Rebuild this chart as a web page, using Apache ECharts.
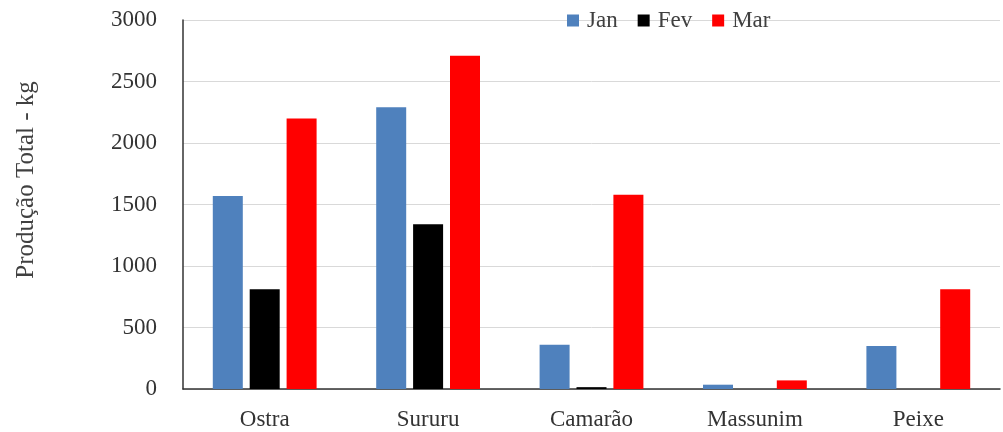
<!DOCTYPE html>
<html><head><meta charset="utf-8">
<script src="https://cdn.jsdelivr.net/npm/echarts@6/dist/echarts.min.js"></script>
<style>html,body{margin:0;padding:0;background:#fff}#c{width:1003px;height:432px}</style>
</head><body><div id="c"></div>
<script>
const categories = ['Ostra', 'Sururu', 'Camarão', 'Massunim', 'Peixe'];
const janValues = [1570, 2290, 360, 35, 350];
const fevValues = [810, 1340, 15, 0, 0];
const marValues = [2200, 2710, 1580, 70, 810];
const yTicks = [0, 500, 1000, 1500, 2000, 2500, 3000];
const yTitle = 'Produção Total - kg';

const font = 'Liberation Serif';
const chart = echarts.init(document.getElementById('c'));
chart.setOption({
  animation: false,
  textStyle: { fontFamily: font },
  grid: { left: 183, right: 3, top: 20, bottom: 43 },
  legend: {
    top: 4, left: 562,
    itemWidth: 12, itemHeight: 12, itemGap: 20,
    icon: 'rect',
    textStyle: { fontFamily: font, fontSize: 23, color: '#404040', padding: [0, 0, 0, 3] },
    data: ['Jan', 'Fev', 'Mar']
  },
  xAxis: {
    type: 'category', data: categories,
    axisLine: { lineStyle: { color: '#333', width: 1.5 } },
    axisTick: { show: false },
    axisLabel: { fontFamily: font, fontSize: 23, color: '#333', margin: 19 }
  },
  yAxis: {
    type: 'value', min: yTicks[0], max: yTicks[yTicks.length - 1], interval: 500,
    axisLine: { show: true, lineStyle: { color: '#333', width: 1.5 } },
    axisTick: { show: false },
    axisLabel: { fontFamily: font, fontSize: 23, color: '#333', margin: 26, formatter: v => String(v) },
    splitLine: { lineStyle: { color: '#d9d9d9', width: 1 } }
  },
  graphic: [{
    type: 'text', rotation: Math.PI / 2,
    x: 26, y: 180,
    style: { text: yTitle, fontFamily: font, fontSize: 25, fill: '#404040', align: 'center', verticalAlign: 'middle' }
  }],
  series: [
    { name: 'Jan', type: 'bar', data: janValues, itemStyle: { color: '#4f81bd' }, barWidth: 30, barGap: '23%' },
    { name: 'Fev', type: 'bar', data: fevValues, itemStyle: { color: '#000000' }, barWidth: 30, barGap: '23%' },
    { name: 'Mar', type: 'bar', data: marValues, itemStyle: { color: '#ff0000' }, barWidth: 30, barGap: '23%' }
  ]
});
</script></body></html>
